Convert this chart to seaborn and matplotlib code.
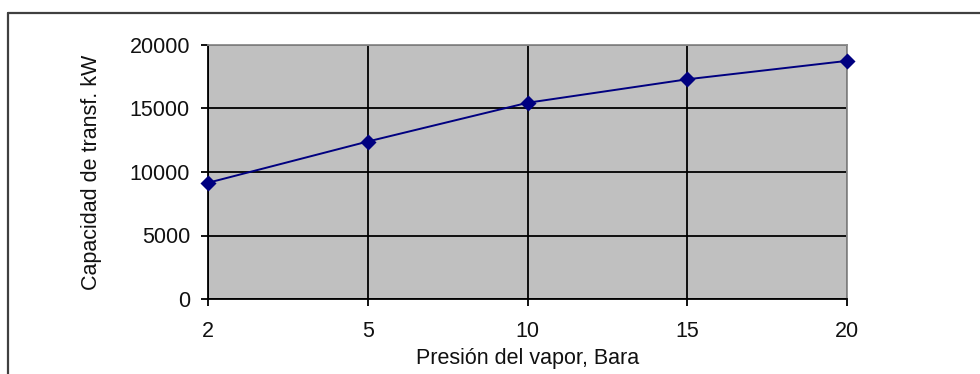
import matplotlib
matplotlib.use("Agg")
import matplotlib.pyplot as plt
import seaborn as sns
import pandas as pd

# Steam pressure (bar) and heat transfer capacity (kW)
pressures = ["2", "5", "10", "15", "20"]
capacity_kw = [9150, 12400, 15450, 17300, 18750]
y_ticks = [0, 5000, 10000, 15000, 20000]

sns.set_theme(style="white")
plt.rcParams["font.family"] = ["Liberation Sans", "DejaVu Sans"]

df = pd.DataFrame({"pressure": pressures, "capacity": capacity_kw})

fig = plt.figure(figsize=(9.8, 3.74), dpi=100)
ax = fig.add_axes([208 / 980, 1 - 299 / 374, (847 - 208) / 980, (299 - 45) / 374])
ax.set_facecolor("#c0c0c0")

sns.pointplot(data=df, x="pressure", y="capacity", order=pressures,
              color="#000080", markers="D", linestyles="-",
              linewidth=1.4, markersize=7, errorbar=None, ax=ax)
for coll in ax.collections:
    coll.set_clip_on(False)
for line in ax.lines:
    line.set_clip_on(False)
    line.set_zorder(5)

ax.set_xlim(0, len(pressures) - 1)
ax.set_ylim(0, 20000)
ax.set_yticks(y_ticks)
ax.set_yticklabels([str(v) for v in y_ticks])

ax.grid(True, color="black", linewidth=1.3)
ax.set_axisbelow(True)

for side in ("left", "bottom"):
    ax.spines[side].set_color("black")
    ax.spines[side].set_linewidth(1.3)
for side in ("top", "right"):
    ax.spines[side].set_color("#8a8a8a")
    ax.spines[side].set_linewidth(1.3)

ax.tick_params(axis="both", direction="out", length=5, width=1.3,
               color="black", labelsize=15.5, labelcolor="#111111",
               left=True, bottom=True)
ax.tick_params(axis="y", pad=8)
ax.tick_params(axis="x", pad=11)

ax.set_xlabel("Presión del vapor, Bara", fontsize=15.5, color="#111111", labelpad=4)
ax.set_ylabel("Capacidad de transf. kW", fontsize=15.5, color="#111111", labelpad=20)

# Outer chart frame (top and left edges)
fig.add_artist(plt.Line2D([8 / 980, 1.0], [1 - 13 / 374, 1 - 13 / 374],
                          color="#404040", linewidth=1.6))
fig.add_artist(plt.Line2D([8 / 980, 8 / 980], [0.0, 1 - 13 / 374],
                          color="#404040", linewidth=1.6))

fig.savefig("out.png", dpi=100)
